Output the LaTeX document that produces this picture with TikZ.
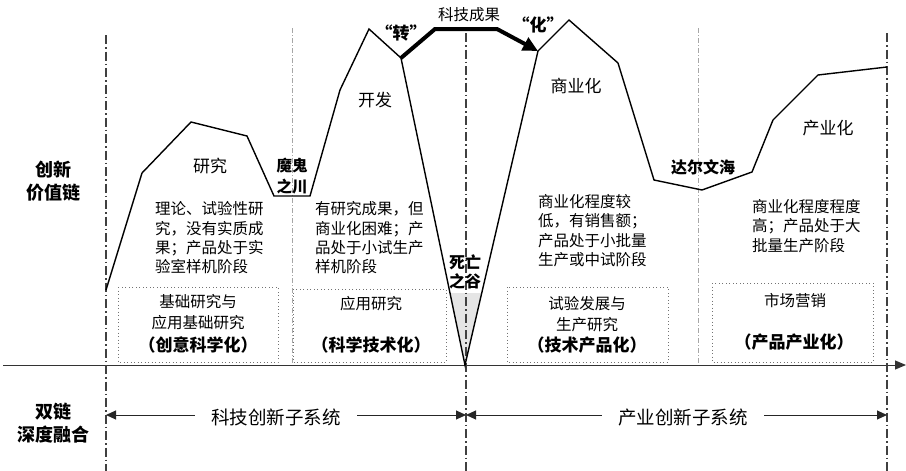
\documentclass[tikz,border=0pt]{standalone}
\usepackage{fontspec}
\setmainfont{Noto Sans CJK SC}
\usetikzlibrary{arrows.meta}
\begin{document}
\begin{tikzpicture}[x=1pt,y=-1pt,
  curve/.style={line width=1.4pt, line join=miter},
  thickdash/.style={line width=1.1pt, black!75, dash pattern=on 9pt off 3pt on 1.5pt off 3pt},
  lightdash/.style={line width=0.6pt, black!35, dash pattern=on 5pt off 2pt on 1pt off 2pt},
  dotbox/.style={draw=black!55, line width=0.9pt, dash pattern=on 0.9pt off 2.6pt},
  desc/.style={align=left, anchor=west, inner sep=0pt, font=\fontsize{15.5}{19.3}\selectfont},
  boxtxt/.style={align=center, inner sep=0pt, font=\fontsize{15.5}{21}\selectfont},
  boxbold/.style={inner sep=0pt, font=\bfseries\fontsize{17}{20}\selectfont},
  biglbl/.style={inner sep=0pt, font=\fontsize{17}{20}\selectfont},
  boldlbl/.style={align=center, inner sep=0pt, font=\bfseries\fontsize{15.5}{20.5}\selectfont},
  sidelbl/.style={align=center, inner sep=0pt, font=\bfseries\fontsize{18}{23}\selectfont},
  systxt/.style={fill=white, inner xsep=16pt, inner ysep=2pt, font=\fontsize{18.5}{22}\selectfont},
  biarrow/.style={line width=1pt, black!85, {Triangle[length=10pt,width=9pt]}-{Triangle[length=10pt,width=9pt]}},
  axis/.style={line width=1pt, black!80, -{Triangle[length=11pt,width=9pt]}},
  bigarrow/.style={line width=4pt, line join=miter, -{Triangle[length=15pt,width=14pt]}}
]
\useasboundingbox (0,0) rectangle (906,471);

% curve points
\coordinate (P0) at (106,290);
\coordinate (P1) at (142,173);
\coordinate (P2) at (191,122);
\coordinate (P3) at (247,136);
\coordinate (P4) at (274,196);
\coordinate (P5) at (310,196);
\coordinate (P6) at (340,90);
\coordinate (P7) at (369,29);
\coordinate (P8) at (401,58);
\coordinate (P9) at (465,365);
\coordinate (P10) at (538,51);
\coordinate (P11) at (569,20);
\coordinate (P12) at (618,63);
\coordinate (P13) at (654,180);
\coordinate (P14) at (702,190);
\coordinate (P15) at (752,172);
\coordinate (P16) at (773,120);
\coordinate (P17) at (818,75);
\coordinate (P18) at (887,67);

% death valley fill
\fill[black!10] (450,293) -- (482,293) -- (P9) -- cycle;

% vertical guide lines
\draw[lightdash] (292,28) -- (292,365);
\draw[lightdash] (698,28) -- (698,365);

% dotted boxes
\draw[dotbox] (118,287) rectangle (278,362);
\draw[dotbox] (293,289) rectangle (446,362);
\draw[dotbox] (507,287) rectangle (668,362);
\draw[dotbox] (712,283) rectangle (873,362);

% axis
\coordinate (A0) at (3,365);
\coordinate (A1) at (906,365);
\draw[axis] (A0) -- (A1);

% thick dash-dot lines
\draw[thickdash] (106,35) -- (106,471);
\draw[thickdash] (466,33) -- (466,471);
\draw[thickdash] (887,33) -- (887,471);

% curve
\draw[curve] (P0) -- (P1) -- (P2) -- (P3) -- (P4) -- (P5) -- (P6) -- (P7) -- (P8) -- (P9)
  -- (P10) -- (P11) -- (P12) -- (P13) -- (P14) -- (P15) -- (P16) -- (P17) -- (P18);

% thick arrow (科技成果)
\coordinate (T1) at (435,29);
\coordinate (T2) at (497,29);
\draw[bigarrow] (P8) -- (T1) -- (T2) -- (P10);
\node[biglbl, font=\fontsize{15.5}{18}\selectfont] (kjcg) at (469,15) {科技成果};
\node[boxbold] (zhuan) at (401,33) {“转”};
\node[boxbold] (hua) at (538,25) {“化”};

% stage labels
\node[biglbl] (yanjiu) at (210,166) {研究};
\node[biglbl] (kaifa) at (375,100) {开发};
\node[biglbl] (syh) at (576,86) {商业化};
\node[biglbl] (cyh) at (828,128) {产业化};

\node[boldlbl] (mogui) at (292,176) {魔鬼\\之川};
\node[boldlbl, font=\bfseries\fontsize{16}{19}\selectfont] (siwang) at (465,272) {死亡\\之谷};
\node[boldlbl, font=\bfseries\fontsize{16}{19}\selectfont] (daerwen) at (703,167) {达尔文海};

% descriptions
\node[desc] (d1) at (155,238) {理论、试验性研\\究，没有实质成\\果；产品处于实\\验室样机阶段};
\node[desc] (d2) at (315,238) {有研究成果，但\\商业化困难；产\\品处于小试生产\\样机阶段};
\node[desc] (d3) at (538,230.5) {商业化程度较\\低，有销售额；\\产品处于小批量\\生产或中试阶段};
\node[desc] (d4) at (752,226) {商业化程度程度\\高；产品处于大\\批量生产阶段};

% box texts
\node[boxtxt] (b1a) at (198,312.5) {基础研究与\\应用基础研究};
\node[boxbold] (b1b) at (198,345) {（创意科学化）};
\node[boxtxt] (b2a) at (371,304) {应用研究};
\node[boxbold] (b2b) at (371,345) {（科学技术化）};
\node[boxtxt] (b3a) at (587,314.5) {试验发展与\\生产研究};
\node[boxbold] (b3b) at (587,345) {（技术产品化）};
\node[boxtxt] (b4a) at (795,301) {市场营销};
\node[boxbold] (b4b) at (794,342) {（产品产业化）};

% side labels
\node[sidelbl] (cxjzl) at (54,181) {创新\\价值链};
\node[sidelbl] (slrh) at (53,423) {双链\\深度融合};

% bottom subsystem arrows
\coordinate (B0) at (106,415);
\coordinate (B1) at (466,415);
\coordinate (B2) at (887,415);
\draw[biarrow] (B0) -- (B1);
\draw[biarrow] (B1) -- (B2);
\node[systxt] (kjcx) at (276,417) {科技创新子系统};
\node[systxt] (cycx) at (683,417) {产业创新子系统};
\end{tikzpicture}
\end{document}
